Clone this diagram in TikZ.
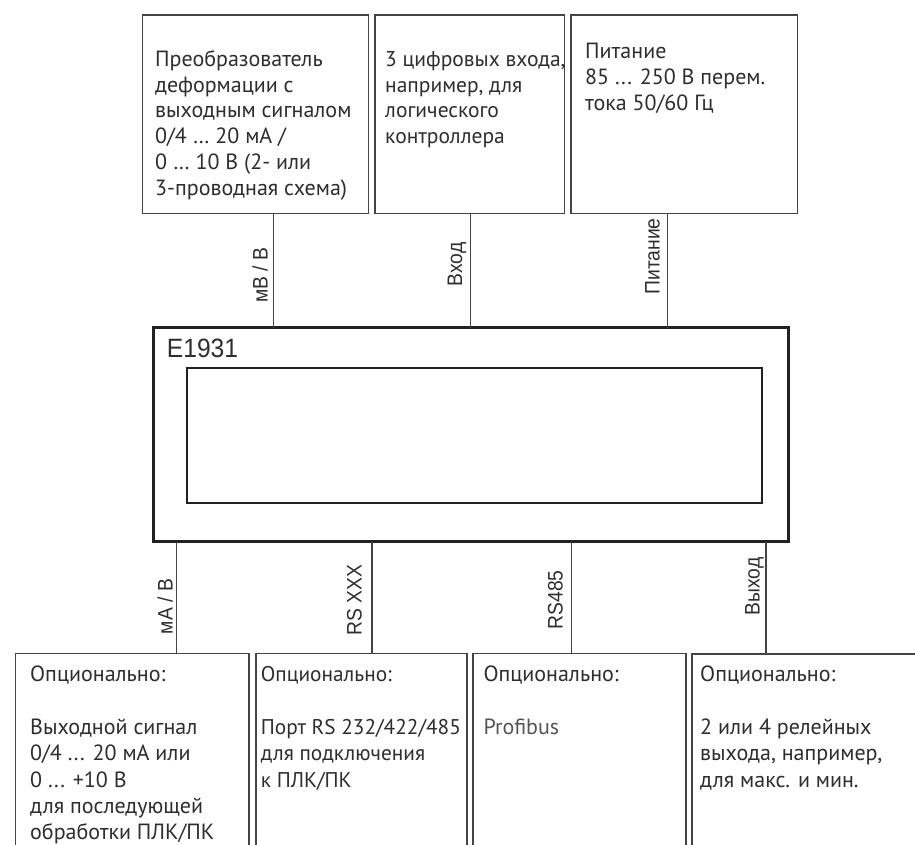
\documentclass[tikz,border=0pt]{standalone}
\usepackage{fontspec}
\setmainfont{PT Sans}
\newfontfamily\lblfont[FakeStretch=0.92]{Liberation Sans}
\newfontfamily\titlefont[FakeStretch=0.93]{Liberation Sans}
\definecolor{txt}{HTML}{2E2E2E}
\definecolor{linec}{HTML}{444444}
\definecolor{frame}{HTML}{222222}
\newcommand{\fstrut}{\rule{0pt}{20pt}}
\tikzset{
  box/.style={draw=linec, line width=1.3pt, anchor=north west, inner sep=0pt, outer sep=0pt},
  wire/.style={draw=linec, line width=1.2pt},
  boxtext/.style={anchor=north west, inner sep=0pt, align=left, text=txt,
    font=\fontsize{22}{25.8}\selectfont},
  btmtext/.style={boxtext, font=\fontsize{22}{26.3}\selectfont},
  lbl/.style={rotate=90, anchor=base, inner sep=0pt, text=txt,
    font=\lblfont\fontsize{21}{24}\selectfont},
}
\begin{document}
\begin{tikzpicture}[x=1pt, y=-1pt]
\useasboundingbox[fill=white] (0,0) rectangle (915,844);

% top boxes
\node[box, minimum width=226pt, minimum height=198.3pt] (t1) at (142.7,15) {};
\node[box, minimum width=189.3pt, minimum height=198.3pt] (t2) at (375,15) {};
\node[box, minimum width=226.3pt, minimum height=198.3pt] (t3) at (571,15) {};

\node[boxtext] (t1txt) at (155,46) {\fstrut Преобразователь\\деформации с\\выходным сигналом\\0/4 … 20 мА /\\0 … 10 В (2- или\\3-проводная схема)};
\node[boxtext, font=\fontsize{21.5}{25.8}\selectfont] (t2txt) at (385,46) {\fstrut 3 цифровых входа,\\например, для\\логического\\контроллера};
\node[boxtext] (t3txt) at (585,38.3) {\fstrut Питание\\85 ... 250 В перем.\\тока 50/60 Гц};

% main unit
\node[draw=frame, line width=2.6pt, anchor=north west, inner sep=0pt, outer sep=0pt,
      minimum width=635pt, minimum height=214pt] (main) at (153.3,327.7) {};
\node[draw=frame, line width=2.3pt, anchor=north west, inner sep=0pt, outer sep=0pt,
      minimum width=575pt, minimum height=135.6pt] (display) at (186.7,367.7) {};
\node[anchor=base west, inner sep=0pt, text=txt, font=\titlefont\fontsize{26.5}{30}\selectfont] (title) at (166.7,357) {E1931};

% bottom boxes (cut by the page edge)
\node[box, minimum width=233.3pt, minimum height=220pt] (b1) at (15.7,653.3) {};
\node[box, minimum width=211pt, minimum height=220pt] (b2) at (256,653.3) {};
\node[box, minimum width=213pt, minimum height=220pt] (b3) at (473,653.3) {};
\node[box, minimum width=240pt, minimum height=220pt] (b4) at (692,654) {};

\node[btmtext] (b1txt) at (30,661.7) {\fstrut Опционально:\\[26.3pt]Выходной сигнал\\0/4 ... 20 мА или\\0 ... +10 В\\для последующей\\обработки ПЛК/ПК};
\node[btmtext, font=\fontsize{21.3}{26.3}\selectfont] (b2txt) at (260.7,661.7) {\fstrut Опционально:\\[26.3pt]Порт RS 232/422/485\\для подключения\\к ПЛК/ПК};
\node[btmtext] (b3txt) at (483.3,661.7) {\fstrut Опционально:\\[26.3pt]\textcolor[HTML]{555555}{Profibus}};
\node[btmtext] (b4txt) at (700,661.7) {\fstrut Опционально:\\[26.3pt]2 или 4 релейных\\выхода, например,\\для макс. и мин.};

% connector x positions
\coordinate (xa) at (273.3,0);
\coordinate (xb) at (470.7,0);
\coordinate (xc) at (667.7,0);
\coordinate (xd) at (176.5,0);
\coordinate (xe) at (372,0);
\coordinate (xf) at (571.7,0);
\coordinate (xg) at (766,0);

\draw[wire] (t1.south -| xa) -- (main.north -| xa);
\draw[wire] (t2.south -| xb) -- (main.north -| xb);
\draw[wire] (t3.south -| xc) -- (main.north -| xc);
\draw[wire] (main.south -| xd) -- (b1.north -| xd);
\draw[wire] (main.south -| xe) -- (b2.north -| xe);
\draw[wire] (main.south -| xf) -- (b3.north -| xf);
\draw[wire] (main.south -| xg) -- (b4.north -| xg);

% connector labels
\node[lbl] (la) at (267.6,275) {мВ / В};
\node[lbl] (lb) at (462,264.5) {Вход};
\node[lbl] (lc) at (659.5,256.5) {Питание};
\node[lbl] (ld) at (172.7,606.5) {мА / В};
\node[lbl] (le) at (361.7,600) {RS XXX};
\node[lbl] (lf) at (562.7,600) {RS485};
\node[lbl] (lg) at (759.5,586.5) {Выход};
\end{tikzpicture}
\end{document}
